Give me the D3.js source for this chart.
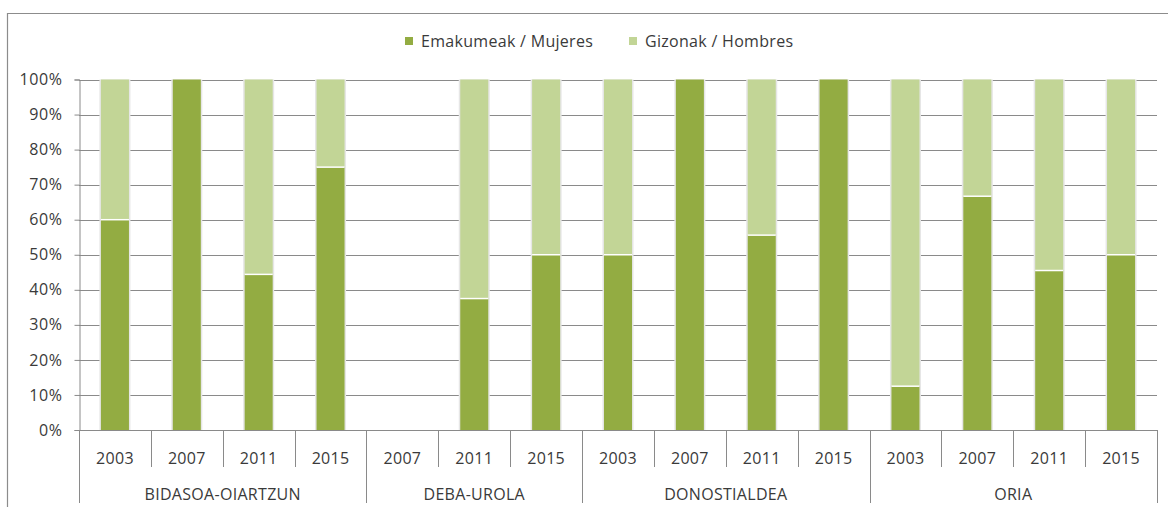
<!DOCTYPE html>
<html><head><meta charset="utf-8">
<script src="https://cdn.jsdelivr.net/npm/d3@7"></script>
<style>
body{margin:0;background:#fff;}
text{font-family:"Open Sans","Noto Sans",sans-serif;fill:#3a3a3a;}
</style></head><body>
<svg id="c" width="1168" height="507"></svg>
<script>
const groups = ["BIDASOA-OIARTZUN","DEBA-UROLA","DONOSTIALDEA","ORIA"];
const groupYears = [["2003","2007","2011","2015"],["2007","2011","2015"],["2003","2007","2011","2015"],["2003","2007","2011","2015"]];
const mujeres = [60,100,44.4,75, 0,37.5,50, 50,100,55.6,100, 12.5,66.7,45.5,50];
const hombres = [40,0,55.6,25, 0,62.5,50, 50,0,44.4,0, 87.5,33.3,54.5,50];
const seriesNames = ["Emakumeak / Mujeres","Gizonak / Hombres"];
const colors = ["#93ac42","#c2d596"];
const yTicks = [0,10,20,30,40,50,60,70,80,90,100];

const svg = d3.select("#c");
const L=79, R=1157, T=79.5, B=430;

// outer border
svg.append("path").attr("d","M7.5,507 L7.5,13.5 L1168,13.5").attr("fill","none").attr("stroke","#8c8c8c").attr("stroke-width",1.2);

const slots=[];
groups.forEach((g,gi)=>groupYears[gi].forEach(yr=>slots.push({g,yr,key:g+"|"+yr})));
slots.forEach((s,i)=>{s.m=mujeres[i];s.h=hombres[i];});

const x=d3.scaleBand().domain(slots.map(s=>s.key)).range([L,R]).paddingInner(0.61).paddingOuter(0.305);
const y=d3.scaleLinear().domain([0,100]).range([B,T]);

// gridlines
svg.append("g").selectAll("line").data(yTicks.filter(d=>d>0)).join("line")
  .attr("x1",L).attr("x2",R).attr("y1",d=>Math.round(y(d))+0.5).attr("y2",d=>Math.round(y(d))+0.5)
  .attr("stroke","#8a8a8a").attr("stroke-width",1);

// y axis
const ya=svg.append("g").attr("transform",`translate(${L+0.5},0)`)
  .call(d3.axisLeft(y).tickValues(yTicks).tickSize(5).tickFormat(d=>d+"%"));
ya.select(".domain").attr("stroke","#8a8a8a");
ya.selectAll(".tick line").attr("stroke","#8a8a8a");
ya.selectAll("text").attr("font-size",16).attr("fill","#3a3a3a").attr("x",-17).attr("letter-spacing",0.6).style("font-family","'Open Sans',sans-serif");

// bars
const bw=x.bandwidth();
const bars=svg.append("g");
slots.forEach(s=>{
  const x0=x(s.key);
  if(s.m+s.h<=0) return;
  bars.append("rect").attr("x",x0-1.5).attr("y",y(100)).attr("width",bw+3).attr("height",y(0)-y(100))
    .attr("fill","#e6e6e6");
  if(s.m>0) bars.append("rect").attr("x",x0).attr("y",y(s.m)).attr("width",bw).attr("height",y(0)-y(s.m)).attr("fill",colors[0]);
  if(s.h>0) bars.append("rect").attr("x",x0).attr("y",y(s.m+s.h)).attr("width",bw).attr("height",y(s.m)-y(s.m+s.h)).attr("fill",colors[1]);
  if(s.m>0 && s.h>0) bars.append("line").attr("x1",x0).attr("x2",x0+bw).attr("y1",y(s.m)).attr("y2",y(s.m)).attr("stroke","#fff").attr("stroke-width",1.5);
});

// x axis
svg.append("line").attr("x1",L).attr("x2",R).attr("y1",B+0.5).attr("y2",B+0.5).attr("stroke","#8a8a8a");
const step=x.step();
const ax=svg.append("g");
slots.forEach((s,i)=>{
  const cx=x(s.key)+bw/2;
  ax.append("text").attr("x",cx).attr("y",464).attr("text-anchor","middle").attr("font-size",16).attr("letter-spacing",0.3).text(s.yr);
});
let idx=0; const groupBounds=[0];
groupYears.forEach(gy=>{idx+=gy.length;groupBounds.push(idx);});
for(let i=0;i<=slots.length;i++){
  const xx=Math.round(L+i*step)+0.5;
  const isGroup=groupBounds.includes(i);
  ax.append("line").attr("x1",xx).attr("x2",xx).attr("y1",B).attr("y2",isGroup?503:467).attr("stroke","#8a8a8a");
}
groups.forEach((g,gi)=>{
  const cx=L+(groupBounds[gi]+groupBounds[gi+1])/2*step;
  ax.append("text").attr("x",cx).attr("y",500).attr("text-anchor","middle").attr("font-size",16).attr("letter-spacing",0.3).text(g);
});

// legend
const lg=svg.append("g");
const lx=[405,629];
seriesNames.forEach((n,i)=>{
  lg.append("rect").attr("x",lx[i]).attr("y",37).attr("width",8).attr("height",8).attr("fill",colors[i]);
  lg.append("text").attr("x",lx[i]+16).attr("y",47).attr("font-size",16).attr("letter-spacing",0.3).text(n);
});
</script></body></html>
